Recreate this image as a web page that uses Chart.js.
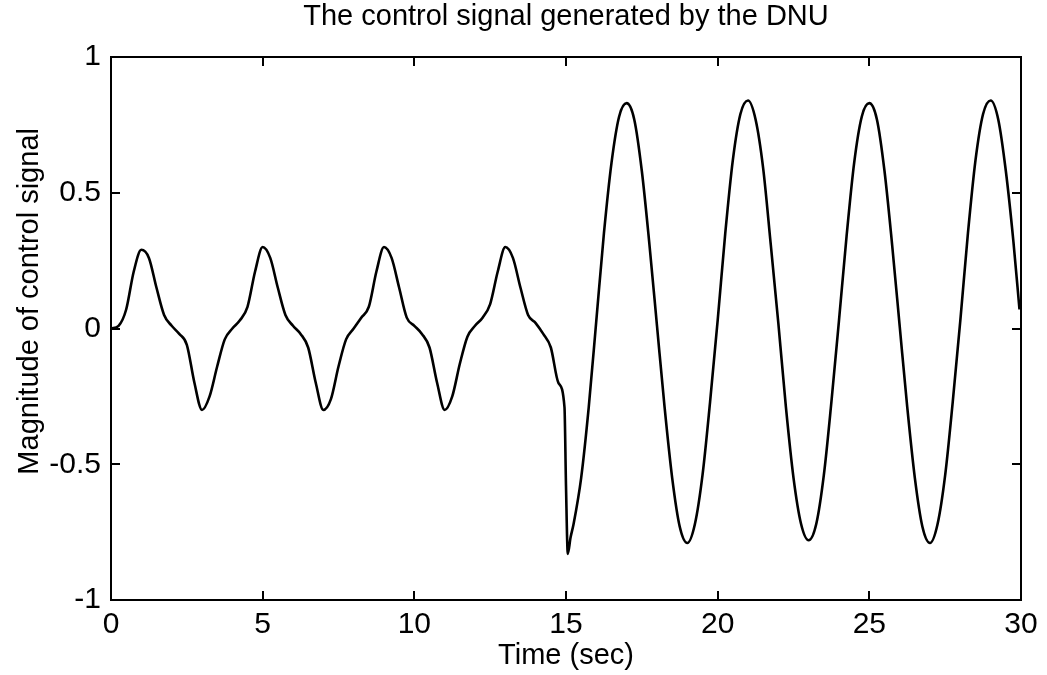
<!DOCTYPE html>
<html>
<head>
<meta charset="utf-8">
<script src="https://cdn.jsdelivr.net/npm/chart.js@4.4.0/dist/chart.umd.min.js"></script>
<style>
  html, body { margin: 0; padding: 0; background: #fff; }
</style>
</head>
<body>
<canvas id="signalChart" width="1047" height="675"></canvas>
<script>
// time axis (sec) and control signal
const timeSec = [
    0, 0.25, 0.5, 0.75, 1, 1.25, 1.5, 1.75, 2, 2.25, 2.5, 2.75, 3, 3.25, 3.5, 3.75,
    4, 4.25, 4.5, 4.75, 5, 5.25, 5.5, 5.75, 6, 6.25, 6.5, 6.75, 7, 7.25, 7.5, 7.75,
    8, 8.25, 8.5, 8.75, 9, 9.25, 9.5, 9.75, 10, 10.25, 10.5, 10.75, 11, 11.25, 11.5, 11.75,
    12, 12.25, 12.5, 12.75, 13, 13.25, 13.5, 13.75, 14, 14.25, 14.5, 14.75, 14.95, 15, 15.06, 15.15,
    15.25, 15.5, 15.75, 16, 16.25, 16.5, 16.75, 17, 17.25, 17.5, 17.75, 18, 18.25, 18.5, 18.75,
    19, 19.25, 19.5, 19.75, 20, 20.25, 20.5, 20.75, 21, 21.25, 21.5, 21.75, 22, 22.25, 22.5, 22.75,
    23, 23.25, 23.5, 23.75, 24, 24.25, 24.5, 24.75, 25, 25.25, 25.5, 25.75, 26, 26.25, 26.5, 26.75,
    27, 27.25, 27.5, 27.75, 28, 28.25, 28.5, 28.75, 29, 29.25, 29.5, 29.75, 29.95
];
const controlSignal = [
    0.00, 0.01, 0.07, 0.21, 0.29, 0.26, 0.15, 0.05, 0.01, -0.02, -0.06, -0.20, -0.30, -0.25, -0.14, -0.04,
    0.00, 0.03, 0.08, 0.21, 0.30, 0.26, 0.15, 0.05, 0.01, -0.02, -0.07, -0.20, -0.30, -0.26, -0.14, -0.04,
    0.00, 0.04, 0.08, 0.21, 0.30, 0.26, 0.15, 0.04, 0.01, -0.02, -0.07, -0.20, -0.30, -0.25, -0.13, -0.03,
    0.01, 0.04, 0.09, 0.21, 0.30, 0.26, 0.15, 0.05, 0.02, -0.02, -0.07, -0.20, -0.29, -0.58, -0.83, -0.77,
    -0.72, -0.55, -0.29, 0.03, 0.35, 0.61, 0.78, 0.83, 0.77, 0.58, 0.31, 0.01, -0.29, -0.55, -0.73,
    -0.79, -0.72, -0.54, -0.27, 0.03, 0.35, 0.62, 0.79, 0.84, 0.77, 0.59, 0.31, 0.02, -0.29, -0.55, -0.72,
    -0.78, -0.72, -0.54, -0.27, 0.03, 0.34, 0.61, 0.78, 0.83, 0.77, 0.58, 0.31, 0.01, -0.29, -0.55, -0.73,
    -0.79, -0.72, -0.54, -0.27, 0.03, 0.35, 0.62, 0.79, 0.84, 0.77, 0.58, 0.32, 0.07
];
const xTicks = [0, 5, 10, 15, 20, 25, 30];
const yTicks = [-1, -0.5, 0, 0.5, 1];
const yLabel = 'Magnitude of control signal';

const FONT = 'Liberation Sans, Arial, Helvetica, sans-serif';

// matlab style frame with inward ticks on all four sides, plus the y label
const framePlugin = {
    id: 'frame',
    afterDatasetsDraw(chart) {
        const { ctx, chartArea: a, scales: { x, y } } = chart;
        ctx.save();
        ctx.strokeStyle = '#000';
        ctx.lineWidth = 2;
        ctx.strokeRect(a.left, a.top, a.right - a.left, a.bottom - a.top);
        ctx.beginPath();
        xTicks.forEach(v => {
            const px = Math.round(x.getPixelForValue(v));
            ctx.moveTo(px, a.bottom); ctx.lineTo(px, a.bottom - 9);
            ctx.moveTo(px, a.top); ctx.lineTo(px, a.top + 9);
        });
        yTicks.forEach(v => {
            const py = Math.round(y.getPixelForValue(v));
            ctx.moveTo(a.left, py); ctx.lineTo(a.left + 9, py);
            ctx.moveTo(a.right, py); ctx.lineTo(a.right - 9, py);
        });
        ctx.stroke();

        // ylabel sits a bit above the axis centre in the original
        ctx.translate(30, y.getPixelForValue(0.1));
        ctx.rotate(-Math.PI / 2);
        ctx.fillStyle = '#000';
        ctx.font = '29px ' + FONT;
        ctx.textAlign = 'center';
        ctx.textBaseline = 'middle';
        ctx.fillText(yLabel, 0, 0);
        ctx.restore();
    }
};

const ctx = document.getElementById('signalChart').getContext('2d');
new Chart(ctx, {
    type: 'line',
    data: {
        datasets: [{
            data: timeSec.map((t, i) => ({ x: t, y: controlSignal[i] })),
            borderColor: '#000',
            borderWidth: 2.6,
            pointRadius: 0,
            cubicInterpolationMode: 'monotone',
            fill: false
        }]
    },
    options: {
        responsive: false,
        animation: false,
        layout: { padding: { left: 10, right: 26, top: 0, bottom: 0 } },
        plugins: {
            legend: { display: false },
            tooltip: { enabled: false },
            title: {
                display: true,
                fullSize: false,
                text: 'The control signal generated by the DNU',
                color: '#000',
                font: { family: FONT, size: 29, weight: 'normal' },
                padding: { top: 0, bottom: 22.2 }
            }
        },
        scales: {
            x: {
                type: 'linear',
                min: 0,
                max: 30,
                afterBuildTicks: s => { s.ticks = xTicks.map(v => ({ value: v })); },
                afterFit: s => { s.height = 75; },
                grid: { display: false, drawTicks: false },
                border: { display: false },
                ticks: {
                    color: '#000',
                    font: { family: FONT, size: 30 },
                    padding: 7,
                    maxRotation: 0,
                    autoSkip: false,
                    callback: v => String(v)
                },
                title: {
                    display: true,
                    text: 'Time (sec)',
                    color: '#000',
                    font: { family: FONT, size: 29 },
                    padding: { top: 0, bottom: 2 }
                }
            },
            y: {
                min: -1,
                max: 1,
                afterBuildTicks: s => { s.ticks = yTicks.map(v => ({ value: v })); },
                afterFit: s => { s.width = 101; },
                grid: { display: false, drawTicks: false },
                border: { display: false },
                ticks: {
                    color: '#000',
                    font: { family: FONT, size: 30 },
                    padding: 10,
                    callback: v => String(v)
                }
            }
        }
    },
    plugins: [framePlugin]
});
</script>
</body>
</html>
